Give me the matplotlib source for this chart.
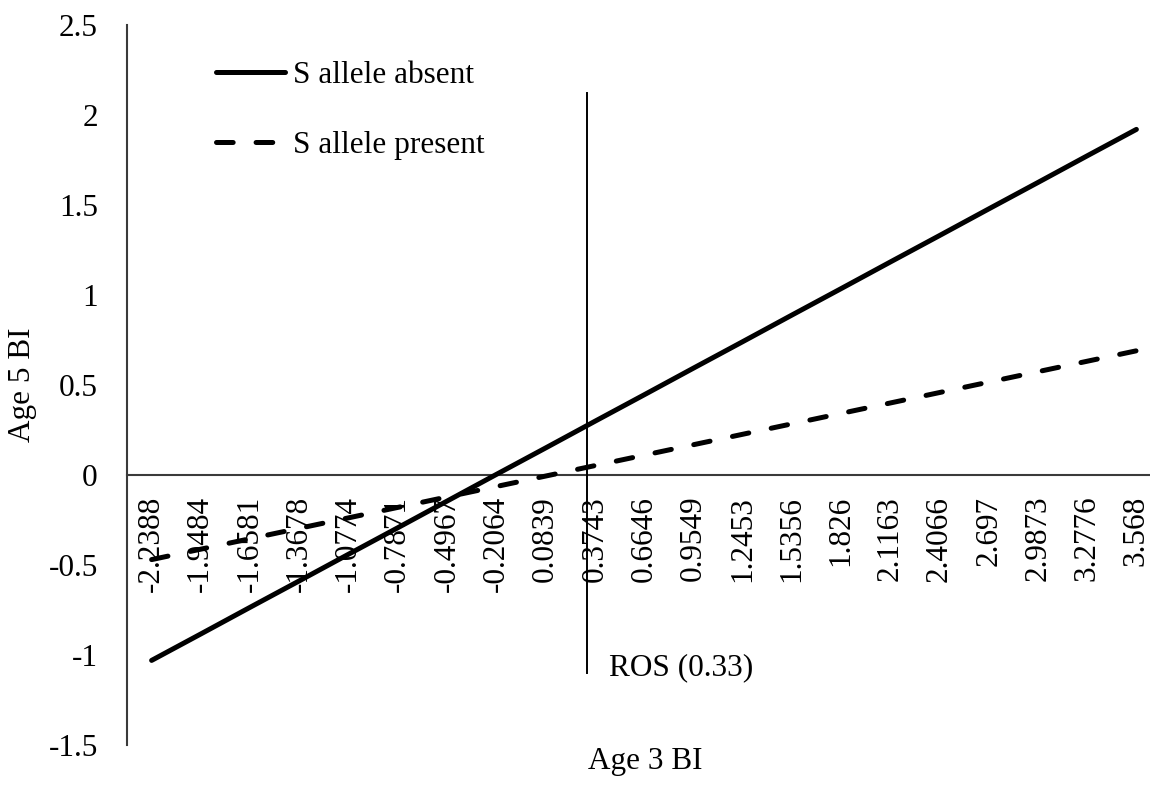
import numpy as np
import matplotlib
matplotlib.use("Agg")
import matplotlib.pyplot as plt
from matplotlib.ticker import FuncFormatter

plt.rcParams['font.family'] = ['Liberation Serif', 'DejaVu Serif']
plt.rcParams['axes.unicode_minus'] = False
plt.rcParams['lines.scale_dashes'] = False

# category labels on the x axis (Age 3 BI)
age3_bi = ["-2.2388", "-1.9484", "-1.6581", "-1.3678", "-1.0774", "-0.7871",
           "-0.4967", "-0.2064", "0.0839", "0.3743", "0.6646", "0.9549",
           "1.2453", "1.5356", "1.826", "2.1163", "2.4066", "2.697",
           "2.9873", "3.2776", "3.568"]

# Age 5 BI
s_absent = [-1.030, -0.883, -0.735, -0.588, -0.440, -0.293, -0.145, 0.003,
            0.150, 0.298, 0.445, 0.593, 0.740, 0.888, 1.035, 1.183, 1.330,
            1.478, 1.625, 1.773, 1.920]
s_present = [-0.470, -0.412, -0.354, -0.296, -0.238, -0.180, -0.122, -0.064,
             -0.006, 0.052, 0.110, 0.168, 0.226, 0.284, 0.342, 0.400, 0.458,
             0.516, 0.574, 0.632, 0.690]

ros_value = 0.33
ros_span = [-1.1, 2.12]

fs = 22.5
idx = np.arange(len(age3_bi))
cat_vals = np.array([float(v) for v in age3_bi])

fig = plt.figure(figsize=(11.5, 7.86), dpi=100)
ax = fig.add_axes([127/1150, 41/786, (1161-127)/1150, 720/786])

ax.plot(idx, s_absent, color='k', lw=3.6, solid_capstyle='round',
        label='S allele absent', zorder=4)
ax.plot(idx, s_present, color='k', lw=3.6, dash_capstyle='round',
        dashes=(12, 16.5), label='S allele present', zorder=4)

# ROS line, placed on the category axis by interpolating its value
ros_x = np.interp(ros_value, cat_vals, idx)
ax.plot([ros_x, ros_x], ros_span, color='k', lw=1.4, zorder=3)
ax.text(ros_x + 0.45, -1.07, 'ROS (0.33)', fontsize=fs, va='center', ha='left')

ax.set_xlim(-0.5, 20.5)
ax.set_ylim(-1.5, 2.5)
ax.set_yticks(np.arange(-1.5, 2.51, 0.5))
ax.yaxis.set_major_formatter(FuncFormatter(lambda v, p: f"{v:g}"))
ax.set_xticks(idx)
ax.set_xticklabels(age3_bi)

for s in ['top', 'right']:
    ax.spines[s].set_visible(False)
ax.spines['bottom'].set_position(('data', 0))
for s in ['left', 'bottom']:
    ax.spines[s].set_color('#3a3a3a')
    ax.spines[s].set_linewidth(1.5)

ax.tick_params(axis='both', length=0, labelsize=fs)
ax.tick_params(axis='y', pad=21)
ax.tick_params(axis='x', pad=15, labelrotation=90)

ax.set_ylabel('Age 5 BI', fontsize=fs)
ax.yaxis.set_label_coords(-90/1034, 0.5)
fig.text(645/1150, 1 - 762/786, 'Age 3 BI', fontsize=fs, ha='center', va='center')

leg = ax.legend(loc='upper left', bbox_to_anchor=(216/1150, 1 - 61/786),
                bbox_transform=fig.transFigure, frameon=False, fontsize=fs,
                handlelength=2.2, handletextpad=0.25, labelspacing=1.3,
                borderpad=0, borderaxespad=0)

fig.savefig('out.png', dpi=100)
